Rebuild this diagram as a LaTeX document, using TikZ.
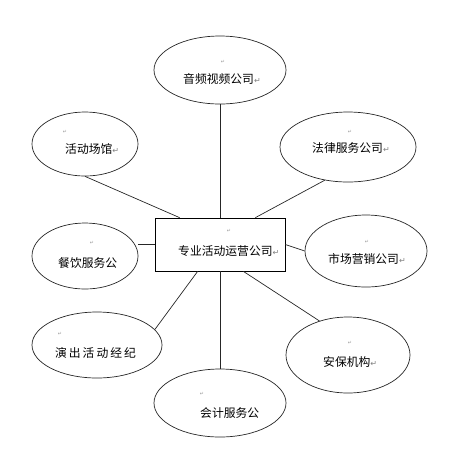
\documentclass[tikz,border=0pt]{standalone}
\usepackage{fontspec}
\usetikzlibrary{shapes.geometric}
\newfontfamily\cjk{Noto Sans CJK SC}
\newfontfamily\symb{DejaVu Sans}
\newcommand{\retmark}{{\symb\fontsize{8}{8}\selectfont\color{gray}↵}}
\newcommand{\emptymark}{{\symb\fontsize{5}{5}\selectfont\color{gray!80}↵}}

\begin{document}
\begin{tikzpicture}[x=1pt,y=-1pt,
  bubble/.style={draw=black!85, line width=0.7pt, ellipse, inner sep=0pt},
  word/.style={anchor=west, inner sep=0pt, font=\cjk\fontsize{11.8}{12}\selectfont},
  parmark/.style={inner sep=0pt},
  link/.style={draw=black!85, line width=0.7pt}]
\useasboundingbox (0,0) rectangle (460,459);

%%%%%%%%%%% centre
\node[draw=black, line width=0.7pt, minimum width=130, minimum height=53, inner sep=0pt] (box) at (220,244.5) {};
\node[parmark] (boxmark) at (229,231) {\emptymark};
\node[word] (boxtxt) at (178,251) {专业活动运营公司\retmark};

%%%%%%%%%%% ellipses
% ---------------    top
\node[bubble, minimum width=132, minimum height=68] (video) at (220,70) {};
\node[parmark] (videomark) at (223,62) {\emptymark};
\node[word] (videotxt) at (183,79) {音频视频公司\retmark};
% ---------------    left
\node[bubble, minimum width=106, minimum height=64] (hall) at (85,144) {};
\node[parmark] (hallmark) at (65,132) {\emptymark};
\node[word] (halltxt) at (65,149) {活动场馆\retmark};

\node[bubble, minimum width=106, minimum height=66] (food) at (85,256) {};
\node[parmark] (foodmark) at (92,243) {\emptymark};
\node[word] (foodtxt) at (58,263) {餐饮服务公};

\node[bubble, minimum width=130, minimum height=66] (show) at (97,345) {};
\node[parmark] (showmark) at (60,334) {\emptymark};
\node[word] (showtxt) at (55,353) {演\,出\,活\,动\,经\,纪};
% ---------------    right
\node[bubble, minimum width=136, minimum height=70] (law) at (348,147) {};
\node[parmark] (lawmark) at (350,132) {\emptymark};
\node[word] (lawtxt) at (312,148) {法律服务公司\retmark};

\node[bubble, minimum width=122, minimum height=72] (market) at (366,251) {};
\node[parmark] (marketmark) at (367,242) {\emptymark};
\node[word] (markettxt) at (328,259) {市场营销公司\retmark};

\node[bubble, minimum width=124, minimum height=76] (guard) at (348,355) {};
\node[parmark] (guardmark) at (350,343) {\emptymark};
\node[word] (guardtxt) at (323,362) {安保机构\retmark};
% ---------------    bottom
\node[bubble, minimum width=132, minimum height=68] (acct) at (220,403) {};
\node[parmark] (acctmark) at (202,394) {\emptymark};
\node[word] (accttxt) at (200,413) {会计服务公};

%%%%%%%%%%% links
\draw[link] (video.south) -- (video.south |- box.north);
\draw[link] (hall.south) -- ([xshift=25pt]box.north west);
\draw[link] (law.235) -- ([xshift=-30pt]box.north east);
\draw[link] (box.west) -- (box.west -| food.east);
\draw[link] (box.east) -- (market.west);
\draw[link] (show.15) -- ([xshift=43pt]box.south west);
\draw[link] (guard.130) -- ([xshift=-42pt]box.south east);
\draw[link] (acct.north) -- (acct.north |- box.south);
\end{tikzpicture}
\end{document}
